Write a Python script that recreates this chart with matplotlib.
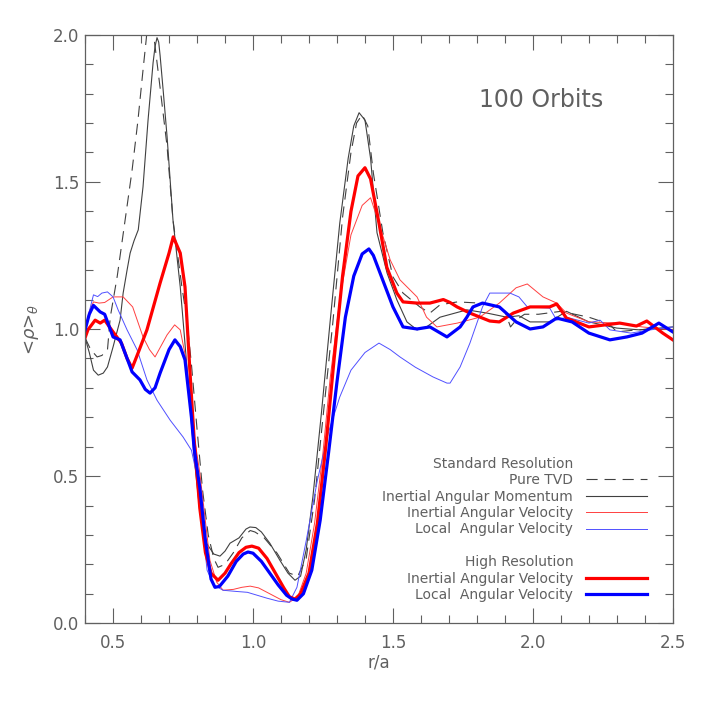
import matplotlib
matplotlib.use("Agg")
import matplotlib.pyplot as plt
from matplotlib.lines import Line2D
from matplotlib.ticker import MultipleLocator, FormatStrFormatter

# data (r/a, <rho>_theta)
# standard resolution, pure TVD
tvd_x = [0.40, 0.42, 0.443, 0.46, 0.48, 0.49, 0.515, 0.543, 0.568, 0.589, 0.607, 0.618, 0.625, 0.635, 0.645,
         0.668, 0.693, 0.714, 0.746, 0.764, 0.78, 0.80, 0.82, 0.84, 0.86, 0.875, 0.90, 0.93, 0.96, 0.99, 1.007,
         1.04, 1.086, 1.13, 1.16, 1.19, 1.22, 1.25, 1.285, 1.32, 1.35, 1.37, 1.39, 1.41, 1.43, 1.464, 1.50,
         1.536, 1.596, 1.632, 1.668, 1.73, 1.81, 1.87, 1.90, 1.92, 1.94, 1.97, 2.02, 2.10, 2.15, 2.20, 2.25,
         2.28, 2.30, 2.35, 2.42, 2.50]
tvd_y = [0.97, 0.93, 0.905, 0.91, 0.929, 1.04, 1.18, 1.37, 1.54, 1.71, 1.88, 1.98, 2.05, 2.06, 2.0,
         1.82, 1.62, 1.371, 1.143, 1.03, 0.88, 0.66, 0.45, 0.30, 0.22, 0.19, 0.20, 0.24, 0.29, 0.315, 0.31,
         0.29, 0.238, 0.17, 0.16, 0.22, 0.42, 0.70, 1.02, 1.38, 1.60, 1.70, 1.728, 1.69, 1.53, 1.327, 1.177,
         1.122, 1.075, 1.054, 1.082, 1.092, 1.088, 1.08, 1.06, 1.007, 1.03, 1.05, 1.05, 1.06, 1.05, 1.04, 1.024,
         1.01, 0.99, 0.995, 1.0, 1.0]

# standard resolution, inertial angular momentum
iam_x = [0.40, 0.415, 0.43, 0.447, 0.465, 0.48, 0.50, 0.525, 0.536, 0.55, 0.561, 0.575, 0.59, 0.607, 0.625,
         0.643, 0.65, 0.657, 0.663, 0.668, 0.68, 0.693, 0.714, 0.74, 0.75, 0.77, 0.79, 0.81, 0.835, 0.86,
         0.882, 0.90, 0.918, 0.95, 0.975, 0.989, 1.01, 1.03, 1.06, 1.096, 1.125, 1.15, 1.17, 1.19, 1.214,
         1.245, 1.275, 1.31, 1.34, 1.36, 1.379, 1.40, 1.42, 1.443, 1.479, 1.514, 1.55, 1.586, 1.62, 1.668,
         1.764, 1.836, 1.907, 1.95, 1.99, 2.06, 2.12, 2.20, 2.30, 2.38, 2.50]
iam_y = [0.97, 0.92, 0.86, 0.843, 0.85, 0.871, 0.939, 1.03, 1.122, 1.20, 1.258, 1.30, 1.337, 1.483, 1.71,
         1.905, 1.96, 1.99, 1.975, 1.93, 1.80, 1.653, 1.371, 1.143, 1.03, 0.80, 0.56, 0.38, 0.27, 0.235,
         0.228, 0.245, 0.272, 0.29, 0.32, 0.327, 0.325, 0.31, 0.272, 0.214, 0.17, 0.146, 0.16, 0.25, 0.43,
         0.72, 1.02, 1.36, 1.58, 1.69, 1.735, 1.71, 1.58, 1.327, 1.19, 1.099, 1.024, 0.997, 1.007, 1.04,
         1.065, 1.054, 1.04, 1.045, 1.024, 1.024, 1.06, 1.024, 1.003, 0.997, 1.007]

# standard resolution, inertial angular velocity
iav_x = [0.40, 0.415, 0.43, 0.45, 0.47, 0.50, 0.536, 0.57, 0.607, 0.63, 0.65, 0.67, 0.693, 0.72, 0.74,
         0.76, 0.78, 0.81, 0.846, 0.87, 0.893, 0.93, 0.96, 0.99, 1.02, 1.06, 1.10, 1.13, 1.16, 1.19, 1.22,
         1.25, 1.275, 1.31, 1.35, 1.39, 1.42, 1.454, 1.49, 1.525, 1.586, 1.62, 1.657, 1.73, 1.81, 1.88,
         1.94, 1.98, 2.036, 2.085, 2.12, 2.20, 2.30, 2.39, 2.50]
iav_y = [0.99, 1.06, 1.092, 1.088, 1.09, 1.109, 1.109, 1.075, 0.973, 0.93, 0.905, 0.94, 0.98, 1.014, 0.997,
         0.90, 0.70, 0.51, 0.214, 0.14, 0.112, 0.115, 0.122, 0.126, 0.12, 0.10, 0.08, 0.071, 0.09, 0.17, 0.34,
         0.58, 0.827, 1.10, 1.32, 1.42, 1.446, 1.347, 1.235, 1.167, 1.109, 1.04, 1.007, 1.02, 1.04, 1.088,
         1.14, 1.153, 1.109, 1.088, 1.054, 1.024, 1.02, 1.007, 0.997]

# standard resolution, local angular velocity
lav_x = [0.40, 0.41, 0.43, 0.445, 0.46, 0.48, 0.50, 0.518, 0.55, 0.586, 0.621, 0.657, 0.704, 0.75, 0.78,
         0.80, 0.82, 0.836, 0.86, 0.893, 0.94, 0.98, 1.05, 1.09, 1.13, 1.157, 1.19, 1.23, 1.27, 1.31, 1.35,
         1.40, 1.45, 1.49, 1.525, 1.58, 1.643, 1.693, 1.704, 1.74, 1.775, 1.82, 1.846, 1.918, 1.95, 1.98,
         2.06, 2.085, 2.12, 2.20, 2.24, 2.275, 2.35, 2.42, 2.50]
lav_y = [0.99, 1.04, 1.116, 1.11, 1.122, 1.126, 1.109, 1.065, 0.997, 0.929, 0.827, 0.758, 0.69, 0.633, 0.588,
         0.50, 0.32, 0.18, 0.13, 0.112, 0.108, 0.105, 0.085, 0.075, 0.071, 0.122, 0.28, 0.486, 0.65, 0.769, 0.86,
         0.92, 0.952, 0.93, 0.905, 0.87, 0.837, 0.816, 0.816, 0.871, 0.952, 1.075, 1.122, 1.122, 1.109, 1.075,
         1.071, 1.03, 1.04, 1.02, 1.03, 0.997, 0.986, 0.997, 1.007]

# high resolution, inertial angular velocity
hi_iav_x = [0.40, 0.41, 0.436, 0.454, 0.47, 0.50, 0.53, 0.55, 0.568, 0.59, 0.621, 0.668, 0.70, 0.715, 0.74,
            0.757, 0.764, 0.775, 0.79, 0.81, 0.83, 0.85, 0.875, 0.90, 0.92, 0.95, 0.975, 0.996, 1.02, 1.05,
            1.08, 1.11, 1.13, 1.15, 1.17, 1.20, 1.23, 1.26, 1.29, 1.32, 1.35, 1.375, 1.40, 1.42, 1.45, 1.478,
            1.514, 1.536, 1.586, 1.632, 1.68, 1.704, 1.729, 1.775, 1.846, 1.88, 1.93, 1.99, 2.06, 2.085, 2.12,
            2.20, 2.31, 2.37, 2.407, 2.464, 2.50]
hi_iav_y = [0.97, 0.997, 1.03, 1.02, 1.03, 0.99, 0.952, 0.90, 0.867, 0.92, 0.997, 1.156, 1.258, 1.313, 1.258,
            1.143, 1.03, 0.85, 0.62, 0.39, 0.24, 0.17, 0.146, 0.17, 0.20, 0.24, 0.258, 0.262, 0.255, 0.22,
            0.17, 0.12, 0.09, 0.082, 0.10, 0.17, 0.34, 0.60, 0.90, 1.18, 1.40, 1.52, 1.548, 1.51, 1.36, 1.21,
            1.122, 1.092, 1.088, 1.088, 1.10, 1.09, 1.075, 1.054, 1.027, 1.024, 1.054, 1.075, 1.075, 1.085, 1.037,
            1.007, 1.02, 1.01, 1.027, 0.986, 0.963]

# high resolution, local angular velocity
hi_lav_x = [0.40, 0.415, 0.43, 0.454, 0.47, 0.50, 0.525, 0.55, 0.568, 0.596, 0.615, 0.632, 0.65, 0.668, 0.70,
            0.721, 0.74, 0.757, 0.78, 0.79, 0.81, 0.83, 0.85, 0.864, 0.88, 0.91, 0.94, 0.965, 0.982, 1.00,
            1.03, 1.06, 1.09, 1.12, 1.14, 1.157, 1.18, 1.21, 1.24, 1.27, 1.30, 1.33, 1.36, 1.39, 1.414, 1.43,
            1.454, 1.50, 1.536, 1.586, 1.632, 1.693, 1.74, 1.764, 1.786, 1.82, 1.88, 1.94, 1.99, 2.036, 2.085,
            2.14, 2.20, 2.275, 2.336, 2.39, 2.45, 2.50]
hi_lav_y = [0.997, 1.05, 1.08, 1.058, 1.05, 0.973, 0.963, 0.90, 0.854, 0.827, 0.795, 0.782, 0.80, 0.85, 0.93,
            0.963, 0.94, 0.895, 0.70, 0.59, 0.46, 0.28, 0.15, 0.122, 0.125, 0.16, 0.21, 0.235, 0.242, 0.238,
            0.21, 0.17, 0.13, 0.095, 0.082, 0.078, 0.10, 0.18, 0.35, 0.58, 0.82, 1.04, 1.18, 1.255, 1.272, 1.25,
            1.19, 1.075, 1.007, 1.0, 1.007, 0.973, 1.007, 1.04, 1.075, 1.088, 1.075, 1.024, 1.0, 1.007, 1.037,
            1.024, 0.986, 0.963, 0.973, 0.986, 1.02, 0.99]

GREY = "#606060"
plt.rcParams["font.family"] = "DejaVu Sans"
plt.rcParams["lines.scale_dashes"] = False

fig = plt.figure(figsize=(7.09, 7.09), dpi=100)
ax = fig.add_axes([0.12, 0.121, 0.829, 0.830])

# thin = standard resolution, thick = high resolution
ax.plot(tvd_x, tvd_y, color="#404040", lw=0.8, dashes=(8, 5), label="Pure TVD")
ax.plot(iam_x, iam_y, color="#404040", lw=0.8, label="Inertial Angular Momentum")
ax.plot(iav_x, iav_y, color="#ff4040", lw=0.7, label="Inertial Angular Velocity")
ax.plot(lav_x, lav_y, color="#5050ff", lw=0.7, label="Local  Angular Velocity")
ax.plot(hi_iav_x, hi_iav_y, color="#ff0000", lw=2.3, label="Inertial Angular Velocity")
ax.plot(hi_lav_x, hi_lav_y, color="#0000ff", lw=2.3, label="Local  Angular Velocity")

ax.set_xlim(0.4, 2.5)
ax.set_ylim(0.0, 2.0)
ax.xaxis.set_major_locator(MultipleLocator(0.5))
ax.xaxis.set_minor_locator(MultipleLocator(0.1))
ax.yaxis.set_major_locator(MultipleLocator(0.5))
ax.yaxis.set_minor_locator(MultipleLocator(0.1))
ax.tick_params(which="both", direction="in", top=True, right=True, colors=GREY,
               labelsize=12, labelcolor=GREY, width=0.8)
ax.tick_params(which="major", length=11)
ax.tick_params(which="minor", length=6)
ax.tick_params(axis="y", which="major", pad=4)
ax.tick_params(axis="x", which="major", pad=8)
ax.xaxis.set_major_formatter(FormatStrFormatter("%.1f"))
ax.yaxis.set_major_formatter(FormatStrFormatter("%.1f"))
for s in ax.spines.values():
    s.set_color(GREY)
    s.set_linewidth(0.9)

ax.set_xlabel("r/a", color=GREY, fontsize=12, labelpad=1)
ax.set_ylabel(r"<$\rho$>$_\theta$", color=GREY, fontsize=13, labelpad=9)
ax.text(0.776, 0.889, "100 Orbits", transform=ax.transAxes, ha="center", va="center",
        fontsize=17, color=GREY)

# legend: headers + blank row have no visible handle
h, l = ax.get_legend_handles_labels()
blank = Line2D([], [], color="none")
handles = [blank] + h[:4] + [blank, blank] + h[4:]
labels = ["Standard Resolution"] + l[:4] + ["", "High Resolution"] + l[4:]
leg = ax.legend(handles, labels, loc="lower right", frameon=False, markerfirst=False,
                fontsize=10, handlelength=4.4, handletextpad=0.9, labelspacing=0.17,
                bbox_to_anchor=(0.977, 0.015))
for t in leg.get_texts():
    t.set_color(GREY)

fig.savefig("out.png", dpi=100)
